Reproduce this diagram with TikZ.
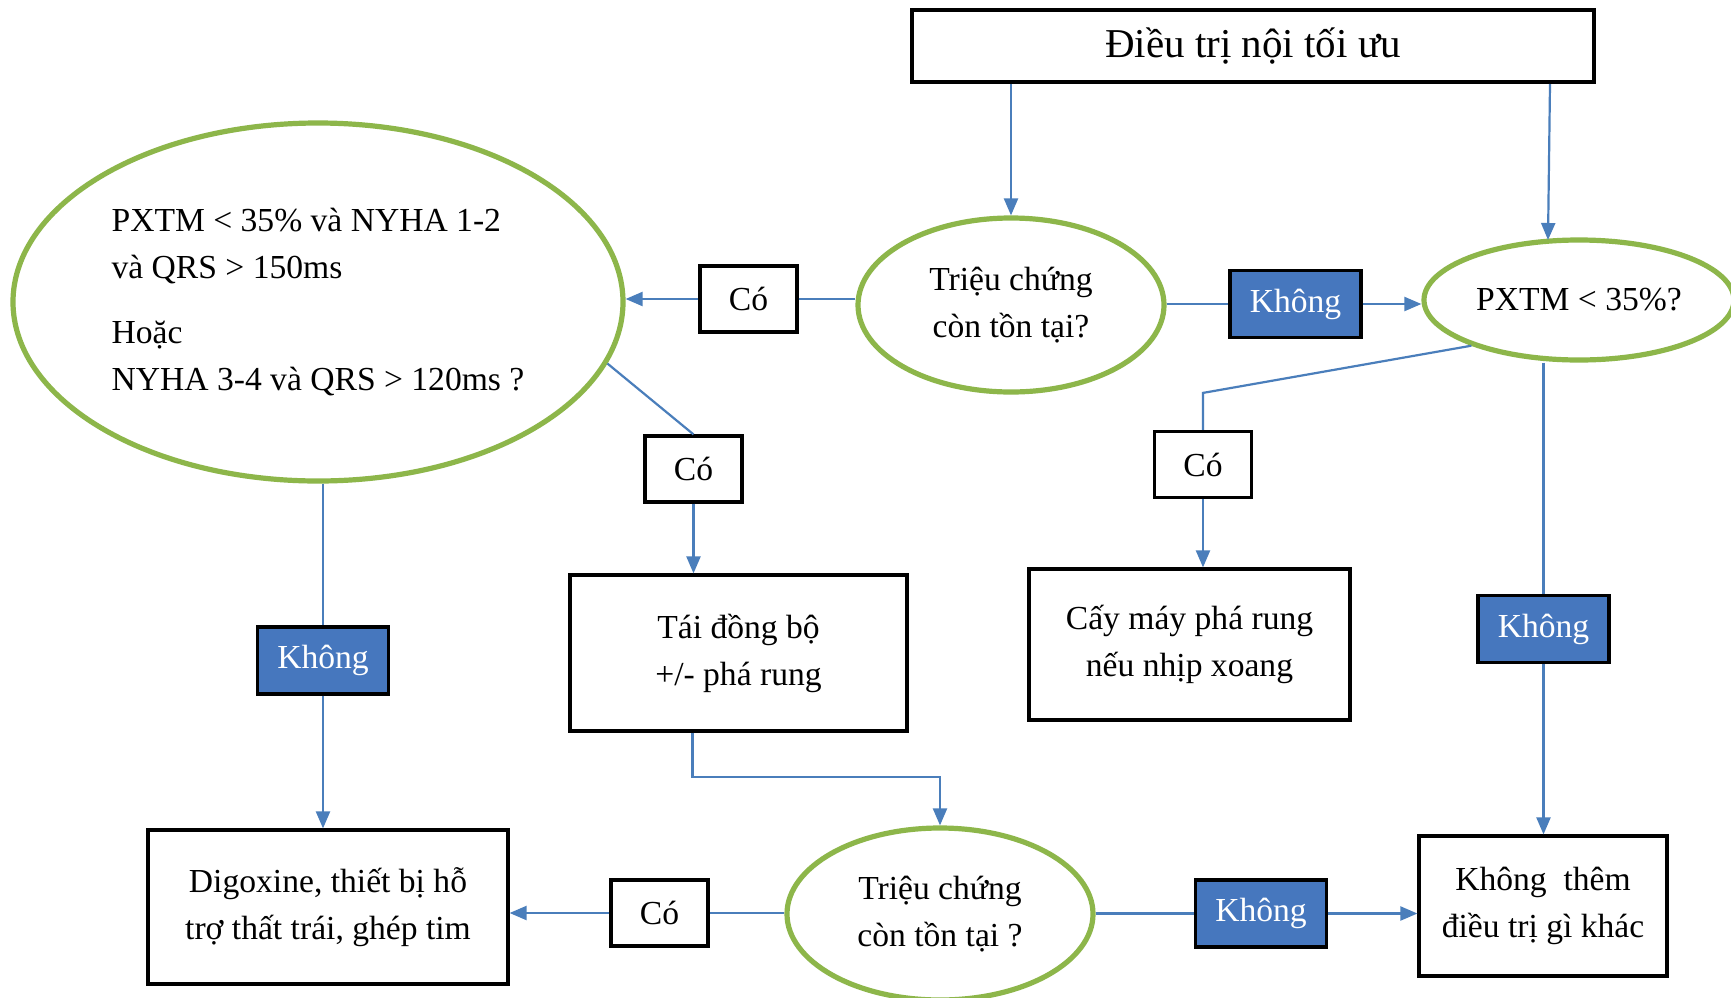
\documentclass[tikz,border=0pt]{standalone}
\usepackage{fontspec}
\setmainfont{Liberation Serif}
\usetikzlibrary{shapes.geometric,arrows.meta,calc}
\definecolor{linkblue}{HTML}{4A7EBB}
\definecolor{boxblue}{HTML}{4677BE}
\definecolor{ellgreen}{HTML}{8DB64A}
\begin{document}
\begin{tikzpicture}[x=0.5pt,y=-0.5pt,
  txt/.style={font=\fontsize{16.8pt}{23.5pt}\selectfont},
  plainbox/.style={draw=black,line width=1.6pt,fill=white,inner sep=0pt,align=center,txt},
  nobox/.style={draw=black,line width=1.6pt,fill=boxblue,text=white,inner sep=0pt,align=center,txt,minimum width=65.5pt,minimum height=33.5pt},
  yesbox/.style={plainbox,minimum width=48.5pt,minimum height=33pt},
  decision/.style={ellipse,draw=ellgreen,line width=2.6pt,fill=white,inner sep=0pt,align=center,txt},
  arr/.style={draw=linkblue,line width=1.1pt,-{Triangle[length=8.5pt,width=7pt]}},
  lnk/.style={draw=linkblue,line width=1.1pt}]
\useasboundingbox (0,0) rectangle (1731,997);
\fill[white] (0,0) rectangle (1731,997);

\node[plainbox,line width=2pt,minimum width=341pt,minimum height=36pt,font=\fontsize{20.5pt}{24pt}\selectfont] (top) at (1253,46) {Điều trị nội tối ưu};

\node[decision,minimum width=153pt,minimum height=87pt] (e1) at (1011,305) {Triệu chứng\\còn tồn tại?};
\node[nobox] (k1) at (1295.5,304) {Không};
\node[decision,minimum width=155pt,minimum height=60pt] (e2) at (1579,300) {PXTM < 35\%?};
\node[decision,minimum width=305pt,minimum height=179pt,align=left] (e3) at (318,302)
  {PXTM < 35\% và NYHA 1-2\\và QRS > 150ms\\[9pt]Hoặc\\NYHA 3-4 và QRS > 120ms ?};
\node[yesbox] (c1) at (748.5,299) {Có};
\node[yesbox] (c2) at (693.5,469) {Có};
\node[plainbox,minimum width=168.5pt,minimum height=78pt] (tai) at (738.5,653) {Tái đồng bộ\\+/- phá rung};
\node[yesbox] (c3) at (1203,464.5) {Có};
\node[plainbox,minimum width=160.5pt,minimum height=75.5pt] (cay) at (1189.5,644.5) {Cấy máy phá rung\\nếu nhịp xoang};
\node[nobox] (k2) at (323,660.5) {Không};
\node[nobox] (k3) at (1543.5,629) {Không};
\node[decision,minimum width=153pt,minimum height=86pt] (e4) at (940,914) {Triệu chứng\\còn tồn tại ?};
\node[yesbox] (c4) at (659.5,913) {Có};
\node[plainbox,minimum width=180pt,minimum height=77pt] (dig) at (328,907) {Digoxine, thiết bị hỗ\\trợ thất trái, ghép tim};
\node[nobox] (k4) at (1261,913.5) {Không};
\node[plainbox,minimum width=124pt,minimum height=70pt] (kt) at (1543,906) {Không\ \ thêm\\điều trị gì khác};

% connectors
\draw[arr] (e1.north |- top.south) -- (e1.north);
\draw[arr] ($(top.south east)+(-46,0)$) -- ($(e2.center)+(-31,-60)$);
\draw[lnk] (c1.east) -- (c1.east -| e1.west);
\draw[arr] (c1.west) -- (c1.west -| e3.east);
\draw[lnk] (e1.east |- k1.west) -- (k1.west);
\draw[arr] (k1.east) -- (k1.east -| e2.west);
\draw[lnk] (e3.-12) -- (c2.north);
\draw[arr] (c2.south) -- (c2.south |- tai.north);
\draw[arr] ($(tai.south)+(-46,0)$) -- ++(0,44) -| (e4.north);
\draw[lnk] (e4.west |- c4.east) -- (c4.east);
\draw[arr] (c4.west) -- (c4.west -| dig.east);
\draw[lnk] (e4.east |- k4.west) -- (k4.west);
\draw[arr] (k4.east) -- (k4.east -| kt.west);
\draw[lnk] (k2.north |- e3.south) -- (k2.north);
\draw[arr] (k2.south) -- (k2.south |- dig.north);
\draw[lnk] (k3.north |- e2.south) -- (k3.north);
\draw[arr] (k3.south) -- (k3.south |- kt.north);
\draw[lnk] (e2.203) -- ($(c3.north)+(0,-37)$) -- (c3.north);
\draw[arr] (c3.south) -- (c3.south |- cay.north);
\end{tikzpicture}
\end{document}
